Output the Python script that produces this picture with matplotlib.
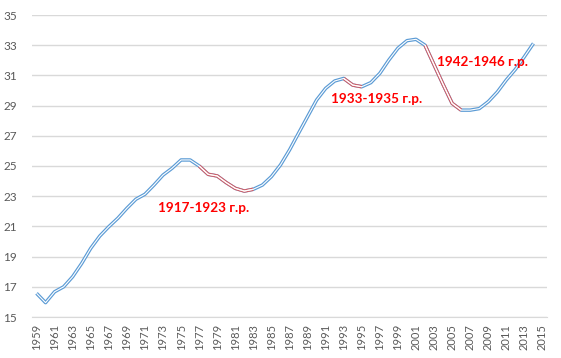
import matplotlib

matplotlib.use("Agg")
import matplotlib.pyplot as plt
import numpy as np

# Data
years = list(range(1959, 2016))
values = [
    16.57, 15.95, 16.67, 17.0, 17.67, 18.55, 19.55, 20.36, 20.98, 21.54,
    22.2, 22.8, 23.13, 23.74, 24.4, 24.85, 25.4, 25.4, 25.0, 24.45,
    24.34, 23.9, 23.52, 23.34, 23.46, 23.74, 24.3, 25.07, 26.06, 27.17,
    28.27, 29.37, 30.14, 30.63, 30.8, 30.36, 30.25, 30.52, 31.14, 32.02,
    32.8, 33.3, 33.39, 33.0, 31.7, 30.4, 29.15, 28.7, 28.7, 28.8,
    29.26, 29.9, 30.7, 31.4, 32.24, 33.12, None,
]
red_spans = [(1977, 1983), (1993, 1995), (2002, 2006)]
labels = ["1917-1923 г.р.", "1933-1935 г.р.", "1942-1946 г.р."]
label_pos = [(13.45, 22.2), (32.6, 29.45), (44.3, 31.9)]

blue = "#5B9BD5"
red = "#D0606A"

fig = plt.figure(figsize=(5.61, 3.58), dpi=100)
ax = fig.add_axes([32 / 561, 1 - 317 / 358, 515 / 561, 302 / 358])

idx = np.arange(len(years))
y = np.array([np.nan if v is None else v for v in values])


def double_line(xs, ys, color):
    ax.plot(xs, ys, color=color, lw=2.5, solid_joinstyle="round",
            solid_capstyle="butt", zorder=3)
    ax.plot(xs, ys, color="white", lw=0.8, solid_joinstyle="round",
            solid_capstyle="butt", zorder=4)


double_line(idx, y, blue)
for a, b in red_spans:
    i0, i1 = years.index(a), years.index(b)
    double_line(idx[i0:i1 + 1], y[i0:i1 + 1], red)

for text, (tx, ty) in zip(labels, label_pos):
    ax.text(tx, ty, text, color="#FF0000", fontsize=9.7, fontweight="bold",
            family="Lato", ha="left", va="center", zorder=5)

ax.set_xlim(-0.5, len(years) - 0.5)
ax.set_ylim(15, 35)
ax.set_yticks(range(15, 36, 2))
ax.set_xticks(idx[::2])
ax.set_xticklabels([str(v) for v in years[::2]], rotation=90)
ax.tick_params(axis="both", length=0, labelcolor="#595959")
ax.tick_params(axis="y", pad=11, labelsize=8.5)
ax.tick_params(axis="x", pad=5, labelsize=8)
for lbl in ax.get_xticklabels() + ax.get_yticklabels():
    lbl.set_family("Lato")
ax.grid(axis="y", color="#D9D9D9", lw=1)
ax.set_axisbelow(True)
for side in ["left", "right", "top"]:
    ax.spines[side].set_visible(False)
ax.spines["bottom"].set_color("#D9D9D9")

fig.savefig("out.png", dpi=100)
plt.close(fig)
